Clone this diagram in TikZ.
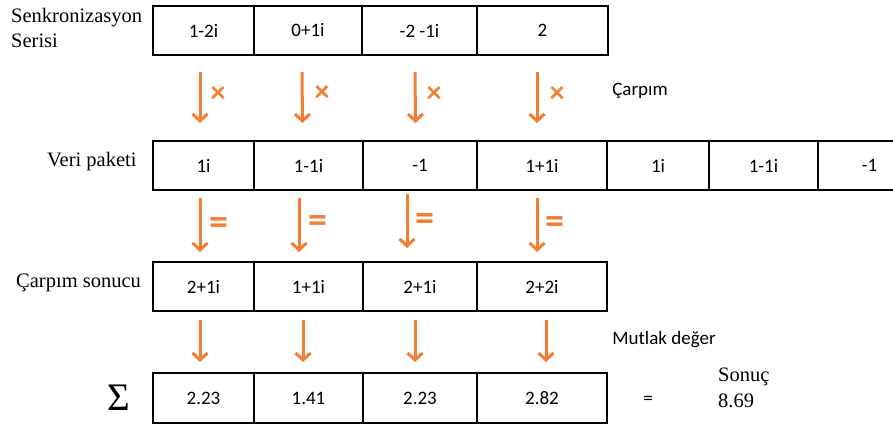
\documentclass[tikz,border=0pt]{standalone}
\usepackage{fontspec}
\setmainfont{Liberation Serif}
\newfontfamily\cfont{Carlito}
\usetikzlibrary{arrows.meta}
\definecolor{org}{RGB}{245,125,50}
\begin{document}
\begin{tikzpicture}[x=1pt,y=-1pt,
  cell/.style={draw, line width=2.6pt, minimum height=49pt, inner sep=0pt, outer sep=0pt, anchor=west,
    font=\cfont\fontsize{19}{22}\selectfont},
  open/.style={cell, draw=none},
  oarrow/.style={draw=org, line width=3pt, -{Straight Barb[length=7pt,width=15pt,line width=3pt]}},
  xsym/.style={text=org, font=\cfont\bfseries\fontsize{30}{32}\selectfont, inner sep=0pt},
  esym/.style={text=org, font=\cfont\bfseries\fontsize{38}{40}\selectfont, inner sep=0pt},
  lbl/.style={font=\fontsize{20.5}{22}\selectfont, inner sep=0pt, anchor=west},
  clbl/.style={font=\cfont\fontsize{19}{22}\selectfont, inner sep=0pt}]
\useasboundingbox (0,0) rectangle (893,425);

% row 1
\node[cell, minimum width=101pt] (a1) at (153,30.5) {1-2i};
\node[cell, minimum width=108pt] (a2) at (254,30.5) {0+1i};
\node[cell, minimum width=115pt] (a3) at (362,30.5) {-2 -1i};
\node[cell, minimum width=131pt] (a4) at (477,30.5) {2};
% row 2
\node[cell, minimum width=101pt] (b1) at (153,165.5) {1i};
\node[cell, minimum width=109pt] (b2) at (254,165.5) {1-1i};
\node[cell, minimum width=114pt] (b3) at (363,165.5) {-1};
\node[cell, minimum width=130pt] (b4) at (477,165.5) {1+1i};
\node[cell, minimum width=102pt] (b5) at (607,165.5) {1i};
\node[cell, minimum width=109pt] (b6) at (709,165.5) {1-1i};
\node[open, minimum width=77pt] (b7) at (818,165.5) {\hspace*{26pt}-1};
\draw[line width=2.6pt] (b7.north west) -- (b7.north east) (b7.south west) -- (b7.south east);
% row 3
\node[cell, minimum width=101pt] (c1) at (153,286.5) {2+1i};
\node[cell, minimum width=109pt] (c2) at (254,286.5) {1+1i};
\node[cell, minimum width=114pt] (c3) at (363,286.5) {2+1i};
\node[cell, minimum width=130pt] (c4) at (477,286.5) {2+2i};
% row 4
\node[cell, minimum width=101pt, minimum height=50pt] (d1) at (153,398) {2.23};
\node[cell, minimum width=109pt, minimum height=50pt] (d2) at (254,398) {1.41};
\node[cell, minimum width=114pt, minimum height=50pt] (d3) at (363,398) {2.23};
\node[cell, minimum width=130pt, minimum height=50pt] (d4) at (477,398) {2.82};

% left labels
\node[lbl] (l1a) at (11,18) {Senkronizasyon};
\node[lbl] (l1b) at (11,41) {Serisi};
\node[lbl] (l2) at (47,162) {Veri paketi};
\node[lbl] (l3) at (16,283) {Çarpım sonucu};
\node[font=\fontsize{39}{40}\selectfont, inner sep=0pt] (sig) at (119,398) {Σ};

% arrows row1 -> row2
\draw[oarrow] ([xshift=-3.5pt,yshift=-17pt]a1.south) -- ([xshift=-3.5pt,yshift=18pt]b1.north);
\draw[oarrow] ([xshift=-6pt,yshift=-17pt]a2.south) -- ([xshift=-6pt,yshift=18pt]b2.north);
\draw[oarrow] ([xshift=-4.5pt,yshift=-17pt]a3.south) -- ([xshift=-4.5pt,yshift=18pt]b3.north);
\draw[oarrow] ([xshift=-5.5pt,yshift=-17pt]a4.south) -- ([xshift=-5pt,yshift=18pt]b4.north);
\node[xsym] (x1) at (218,95) {×};
\node[xsym] (x2) at (322,94) {×};
\node[xsym] (x3) at (434,95) {×};
\node[xsym] (x4) at (557,95) {×};
\node[clbl] (carp) at (640,91) {Çarpım};

% arrows row2 -> row3
\draw[oarrow] ([xshift=-3.5pt,yshift=-8pt]b1.south) -- ([xshift=-3.5pt,yshift=10pt]c1.north);
\draw[oarrow] ([xshift=-9.5pt,yshift=-8pt]b2.south) -- ([xshift=-9.5pt,yshift=10pt]c2.north);
\draw[oarrow] ([xshift=-13pt,yshift=-4pt]b3.south) -- ([xshift=-13pt,yshift=14pt]c3.north);
\draw[oarrow] ([xshift=-5pt,yshift=-8pt]b4.south) -- ([xshift=-5pt,yshift=10pt]c4.north);
\node[esym] (e1) at (219,226) {=};
\node[esym] (e2) at (318,224) {=};
\node[esym] (e3) at (425,222) {=};
\node[esym] (e4) at (555,225) {=};

% arrows row3 -> row4
\draw[oarrow] ([xshift=-3.5pt,yshift=-9pt]c1.south) -- ([xshift=-3.5pt,yshift=11pt]d1.north);
\draw[oarrow] ([xshift=-5.5pt,yshift=-9pt]c2.south) -- ([xshift=-5.5pt,yshift=11pt]d2.north);
\draw[oarrow] ([xshift=-5pt,yshift=-9pt]c3.south) -- ([xshift=-5pt,yshift=11pt]d3.north);
\draw[oarrow] ([xshift=4pt,yshift=-9pt]c4.south) -- ([xshift=4pt,yshift=11pt]d4.north);
\node[clbl] (mut) at (664,340) {Mutlak değer};

% result
\node[clbl] (eq) at (648,400) {=};
\node[lbl] (son) at (718,377) {Sonuç};
\node[lbl] (val) at (718,401) {8.69};
\end{tikzpicture}
\end{document}
